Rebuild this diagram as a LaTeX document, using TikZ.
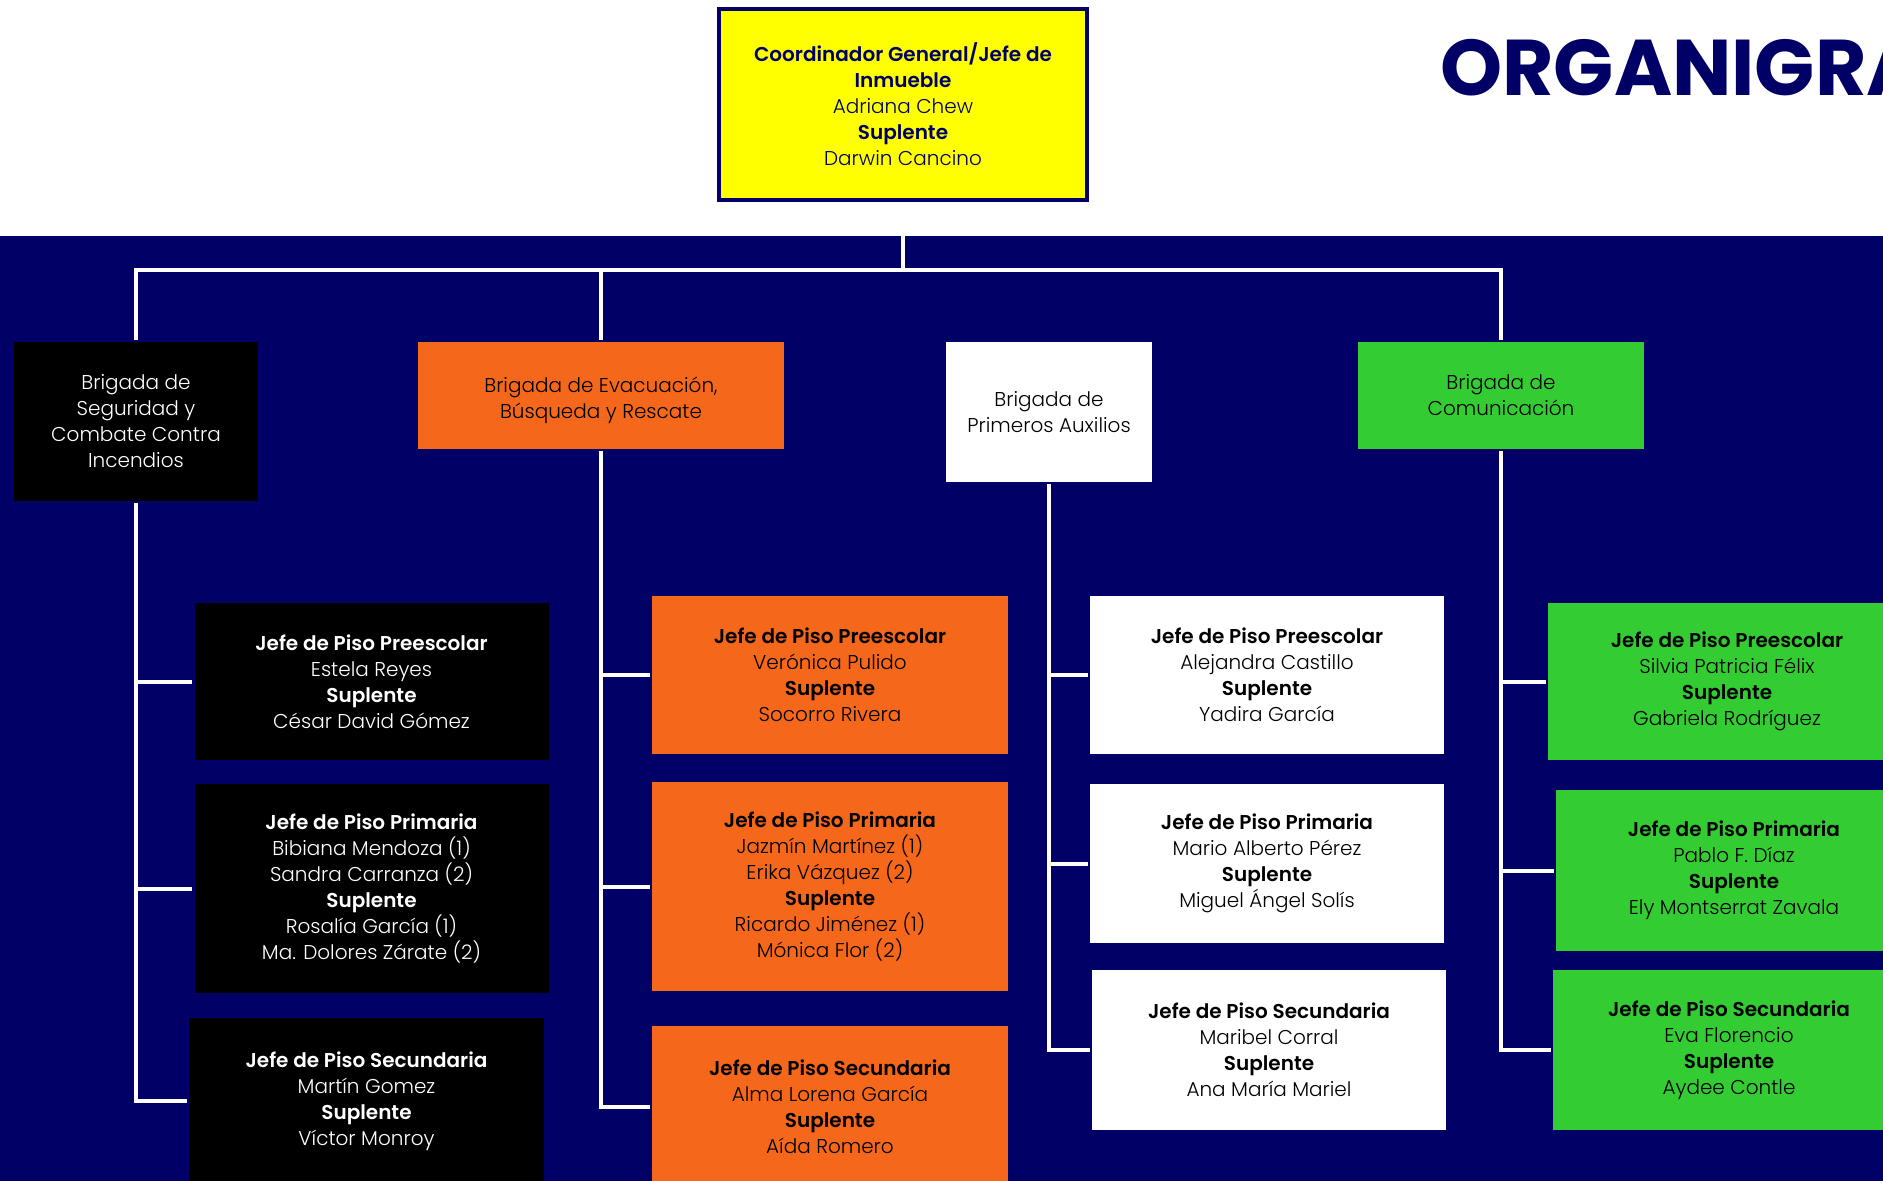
\documentclass[tikz,border=0pt]{standalone}
\usepackage{fontspec}
\setmainfont{Poppins Light}[BoldFont={Poppins SemiBold}]
\newfontfamily\titlefont{Poppins Bold}
\usetikzlibrary{positioning}

\definecolor{marino}{RGB}{0,0,102}
\definecolor{naranja}{RGB}{245,103,26}
\definecolor{verde}{RGB}{51,204,51}
\definecolor{amarillo}{RGB}{255,255,0}

\tikzset{
  caja/.style={rectangle, inner sep=0pt, align=center, font=\fontsize{20}{26}\selectfont},
  brigada/.style={caja},
  piso/.style={caja, minimum width=354pt, minimum height=158pt},
  linea/.style={draw=white, line width=4pt},
}

\begin{document}
\begin{tikzpicture}[x=1pt,y=-1pt]
  \useasboundingbox (0,0) rectangle (1883,1181);
  \clip (0,0) rectangle (1883,1181);
  \fill[white] (0,0) rectangle (1883,236);
  \fill[marino] (0,236) rectangle (1883,1181);

  \node[anchor=base west, inner sep=0pt, text=marino, font=\fontsize{79}{90}\titlefont] (titulo) at (1440,95) {ORGANIGRAMA};

  % coordinador
  \node[caja, fill=amarillo, draw=marino, line width=4pt, text=marino, minimum width=368pt, minimum height=191pt] (coord) at (903,104.5)
    {\textbf{Coordinador General/Jefe de}\\\textbf{Inmueble}\\Adriana Chew\\\textbf{Suplente}\\Darwin Cancino};

  % brigadas
  \node[brigada, fill=black, text=white, minimum width=244pt, minimum height=159pt] (seg) at (136,421.5) {Brigada de\\Seguridad y\\Combate Contra\\Incendios};
  \node[brigada, fill=naranja, text=black, minimum width=366pt, minimum height=107pt] (evac) at (601,395.5) {\rule{0pt}{25pt}Brigada de Evacuación,\\Búsqueda y Rescate};
  \node[brigada, fill=white, text=black, minimum width=206pt, minimum height=140pt] (aux) at (1049,412) {Brigada de\\Primeros Auxilios};
  \node[brigada, fill=verde, text=black, minimum width=286pt, minimum height=107pt] (com) at (1501,395.5) {Brigada de\\Comunicación};

  % jefes de piso
  \node[piso, fill=black, text=white, minimum height=157pt] (segA) at (371.5,681.5) {\textbf{Jefe de Piso Preescolar}\\Estela Reyes\\\textbf{Suplente}\\César David Gómez};
  \node[piso, fill=black, text=white, minimum height=209pt] (segB) at (371.5,888.5) {\textbf{Jefe de Piso Primaria}\\Bibiana Mendoza (1)\\Sandra Carranza (2)\\\textbf{Suplente}\\Rosalía García (1)\\Ma. Dolores Zárate (2)};
  \node[piso, fill=black, text=white, minimum width=355pt, minimum height=166pt] (segC) at (366.5,1101) {\textbf{Jefe de Piso Secundaria}\\Martín Gomez\\\textbf{Suplente}\\Víctor Monroy};

  \node[piso, fill=naranja, text=black, minimum width=356pt] (evacA) at (830,675) {\textbf{Jefe de Piso Preescolar}\\Verónica Pulido\\\textbf{Suplente}\\Socorro Rivera};
  \node[piso, fill=naranja, text=black, minimum width=356pt, minimum height=209pt] (evacB) at (830,886.5) {\textbf{Jefe de Piso Primaria}\\Jazmín Martínez (1)\\Erika Vázquez (2)\\\textbf{Suplente}\\Ricardo Jiménez (1)\\Mónica Flor (2)};
  \node[piso, fill=naranja, text=black, minimum width=356pt, minimum height=162pt] (evacC) at (830,1107) {\textbf{Jefe de Piso Secundaria}\\Alma Lorena García\\\textbf{Suplente}\\Aída Romero};

  \node[piso, fill=white, text=black] (auxA) at (1267,675) {\textbf{Jefe de Piso Preescolar}\\Alejandra Castillo\\\textbf{Suplente}\\Yadira García};
  \node[piso, fill=white, text=black, minimum height=159pt] (auxB) at (1267,863.5) {\textbf{Jefe de Piso Primaria}\\Mario Alberto Pérez\\\textbf{Suplente}\\Miguel Ángel Solís};
  \node[piso, fill=white, text=black, minimum height=160pt] (auxC) at (1269,1050) {\textbf{Jefe de Piso Secundaria}\\Maribel Corral\\\textbf{Suplente}\\Ana María Mariel};

  \node[piso, fill=verde, text=black, minimum width=358pt, minimum height=157pt] (comA) at (1727,681.5) {\textbf{Jefe de Piso Preescolar}\\Silvia Patricia Félix\\\textbf{Suplente}\\Gabriela Rodríguez};
  \node[piso, fill=verde, text=black, minimum width=356pt, minimum height=161pt] (comB) at (1734,870.5) {\textbf{Jefe de Piso Primaria}\\Pablo F. Díaz\\\textbf{Suplente}\\Ely Montserrat Zavala};
  \node[piso, fill=verde, text=black, minimum width=352pt, minimum height=160pt] (comC) at (1729,1050) {\textbf{Jefe de Piso Secundaria}\\Eva Florencio\\\textbf{Suplente}\\Aydee Contle};

  % lineas
  \coordinate (bus) at (903,270);
  \draw[linea] (coord.south) -- (bus);
  \draw[linea, shorten <=2pt] (seg.north) |- (bus);
  \draw[linea, shorten <=2pt] (evac.north) |- (bus);
  \draw[linea, shorten <=2pt] (com.north) |- (bus);

  \foreach \h in {segA,segB,segC}
    \draw[linea, shorten >=2pt] ([yshift=-2pt]seg.south) |- (\h.west);
  \foreach \h in {evacA,evacB,evacC}
    \draw[linea, shorten >=2pt] ([yshift=-2pt]evac.south) |- (\h.west);
  \foreach \h in {auxA,auxB,auxC}
    \draw[linea, shorten >=2pt] ([yshift=-2pt]aux.south) |- (\h.west);
  \foreach \h in {comA,comB,comC}
    \draw[linea, shorten >=2pt] ([yshift=-2pt]com.south) |- (\h.west);
\end{tikzpicture}
\end{document}
